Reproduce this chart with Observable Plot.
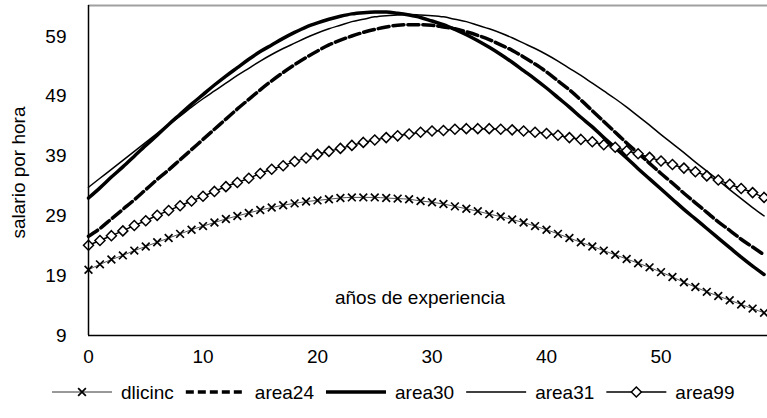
<!DOCTYPE html>
<html><head><meta charset="utf-8">
<script src="https://cdn.jsdelivr.net/npm/d3@7"></script>
<script src="https://cdn.jsdelivr.net/npm/@observablehq/plot@0.6"></script>
<style>
body{margin:0;background:#fff;font-family:"Liberation Sans",Arial,sans-serif;}
#chart{width:767px;height:418px;position:relative;overflow:hidden;background:#fff}
</style></head><body><div id="chart"></div>
<script>
// ---- data ----
const years = d3.range(0, 60);
const seriesNames = ["dlicinc", "area24", "area30", "area31", "area99"];
const dlicinc = [20.0, 20.9, 21.7, 22.4, 23.2, 23.9, 24.6, 25.3, 26.0, 26.7,
  27.3, 27.9, 28.5, 29.0, 29.5, 30.0, 30.4, 30.8, 31.1, 31.4,
  31.6, 31.8, 32.0, 32.1, 32.1, 32.1, 32.0, 31.9, 31.8, 31.5,
  31.3, 31.0, 30.6, 30.2, 29.8, 29.3, 28.9, 28.4, 27.9, 27.3,
  26.7, 26.0, 25.3, 24.6, 23.9, 23.2, 22.5, 21.8, 21.1, 20.4,
  19.6, 18.8, 17.9, 17.1, 16.3, 15.6, 14.9, 14.2, 13.5, 12.8];
const area24 = [25.6, 26.9, 28.5, 30.1, 31.7, 33.4, 35.1, 36.7, 38.4, 40.1,
  41.8, 43.5, 45.2, 46.9, 48.5, 50.1, 51.6, 53.0, 54.3, 55.5,
  56.6, 57.6, 58.4, 59.1, 59.7, 60.2, 60.6, 60.9, 61.0, 61.0,
  60.9, 60.6, 60.3, 59.8, 59.2, 58.5, 57.6, 56.7, 55.6, 54.4,
  53.1, 51.6, 50.1, 48.4, 46.6, 44.8, 43.0, 41.2, 39.5, 37.8,
  36.1, 34.5, 32.8, 31.2, 29.6, 28.0, 26.6, 25.1, 23.8, 22.5];
const area30 = [32.0, 33.7, 35.5, 37.2, 39.0, 40.8, 42.5, 44.3, 46.0, 47.7,
  49.3, 50.9, 52.4, 53.8, 55.2, 56.5, 57.6, 58.7, 59.7, 60.6,
  61.3, 61.9, 62.4, 62.8, 63.0, 63.1, 63.1, 62.9, 62.6, 62.2,
  61.6, 61.0, 60.2, 59.3, 58.3, 57.2, 56.0, 54.7, 53.3, 51.9,
  50.4, 48.8, 47.2, 45.5, 43.9, 42.1, 40.4, 38.7, 36.9, 35.2,
  33.5, 31.8, 30.1, 28.5, 26.9, 25.3, 23.7, 22.1, 20.6, 19.2];
const area31 = [33.8, 35.3, 36.8, 38.3, 39.8, 41.3, 42.8, 44.3, 45.7, 47.2,
  48.6, 49.9, 51.2, 52.5, 53.7, 54.9, 56.0, 57.0, 57.9, 58.8,
  59.6, 60.3, 60.9, 61.5, 61.9, 62.3, 62.5, 62.6, 62.7, 62.6,
  62.5, 62.3, 61.9, 61.5, 60.9, 60.3, 59.6, 58.8, 57.9, 57.0,
  56.0, 54.9, 53.7, 52.5, 51.2, 49.9, 48.6, 47.2, 45.7, 44.2,
  42.6, 41.1, 39.6, 38.0, 36.5, 35.0, 33.4, 31.9, 30.4, 29.0];
const area99 = [24.1, 24.9, 25.7, 26.5, 27.4, 28.2, 29.1, 29.9, 30.7, 31.5,
  32.3, 33.1, 33.9, 34.6, 35.3, 36.1, 36.8, 37.4, 38.1, 38.7,
  39.3, 39.8, 40.3, 40.8, 41.3, 41.7, 42.1, 42.4, 42.7, 43.0,
  43.2, 43.3, 43.5, 43.6, 43.6, 43.6, 43.5, 43.4, 43.2, 43.0,
  42.8, 42.5, 42.1, 41.8, 41.4, 40.9, 40.5, 39.9, 39.4, 38.8,
  38.2, 37.6, 37.0, 36.4, 35.7, 35.0, 34.3, 33.6, 32.9, 32.1];
const xTicks = [0, 10, 20, 30, 40, 50];
const yTicks = [9, 19, 29, 39, 49, 59];
const xTitle = "años de experiencia";
const yTitle = "salario por hora";

// ---- build ----
const values = {dlicinc, area24, area30, area31, area99};
const rows = name => values[name].map((v, i) => ({serie: name, x: years[i], y: v}));
const D = Object.fromEntries(seriesNames.map(n => [n, rows(n)]));

const styles = {
  dlicinc: {stroke: "#555", strokeWidth: 1, marker: "times"},
  area24: {stroke: "#000", strokeWidth: 3.5, dash: "11,4"},
  area30: {stroke: "#000", strokeWidth: 3.5},
  area31: {stroke: "#000", strokeWidth: 1.5},
  area99: {stroke: "#000", strokeWidth: 1.5, marker: "diamond2"}
};
const font = '"Liberation Sans", Arial, sans-serif';
const fs = "19px";
const X0 = 0, X1 = 59.3, Y0 = 9, Y1 = 64.2;

const marks = [Plot.ruleY([Y1], {stroke: "#a0a0a0", strokeWidth: 2})];
for (const n of seriesNames) {
  const s = styles[n];
  marks.push(Plot.lineY(D[n], {x: "x", y: "y", stroke: s.stroke, strokeWidth: s.strokeWidth,
    strokeDasharray: s.dash, curve: "monotone-x"}));
  if (s.marker === "times")
    marks.push(Plot.dot(D[n], {x: "x", y: "y", symbol: "times", r: 3.6, stroke: "#000", strokeWidth: 1.7}));
  if (s.marker === "diamond2")
    marks.push(Plot.dot(D[n], {x: "x", y: "y", symbol: "diamond2", r: 4.5, fill: "#fff", stroke: "#000", strokeWidth: 1.5}));
}
marks.push(
  Plot.ruleX([X0], {stroke: "#000", strokeWidth: 1.5}),
  Plot.ruleY([Y0], {stroke: "#000", strokeWidth: 1.5}),
  Plot.text([xTitle], {frameAnchor: "bottom", lineAnchor: "middle", textAnchor: "middle", dy: -38, dx: -8, text: d => d, fill: "#000"}),
  Plot.text([yTitle], {frameAnchor: "left", textAnchor: "middle", lineAnchor: "middle", rotate: -90, dx: -70, dy: 2, text: d => d, fill: "#000"})
);

const plot = Plot.plot({
  width: 767, height: 372,
  marginTop: 5, marginBottom: 37, marginLeft: 88, marginRight: 0,
  style: {fontFamily: font, fontSize: fs, color: "#000", background: "#fff", overflow: "visible"},
  x: {domain: [X0, X1], ticks: xTicks, tickSize: 0, tickPadding: 14, label: null, tickFormat: d => d},
  y: {domain: [Y0, Y1], ticks: yTicks, tickSize: 0, tickPadding: 22, label: null, tickFormat: d => d},
  marks
});
plot.style.display = "block";
const chart = document.getElementById("chart");
chart.appendChild(plot);

// ---- legend ----
const leg = d3.select(chart).append("svg")
  .attr("width", 767).attr("height", 46).style("display", "block")
  .style("font-family", font).style("font-size", fs);
let x0 = 52; const cy = 20;
for (const n of seriesNames) {
  const s = styles[n];
  leg.append("line").attr("x1", x0).attr("x2", x0 + 60).attr("y1", cy).attr("y2", cy)
    .attr("stroke", s.stroke === "#555" ? "#333" : s.stroke).attr("stroke-width", s.strokeWidth)
    .attr("stroke-dasharray", s.dash ? "8,4" : null);
  if (s.marker === "times")
    leg.append("path").attr("transform", `translate(${x0 + 30},${cy})`)
      .attr("d", d3.symbol(d3.symbolTimes, Math.PI * 3.6 * 3.6)()).attr("stroke", "#000").attr("stroke-width", 1.7).attr("fill", "none");
  if (s.marker === "diamond2")
    leg.append("path").attr("transform", `translate(${x0 + 30},${cy})`)
      .attr("d", d3.symbol(d3.symbolDiamond2, Math.PI * 4.5 * 4.5)()).attr("stroke", "#000").attr("stroke-width", 1.5).attr("fill", "#fff");
  const t = leg.append("text").attr("x", x0 + 69).attr("y", cy).attr("dy", "0.35em").attr("fill", "#000").text(n);
  const w = t.node().getComputedTextLength();
  x0 = x0 + 69 + w + 12;
}
</script></body></html>
